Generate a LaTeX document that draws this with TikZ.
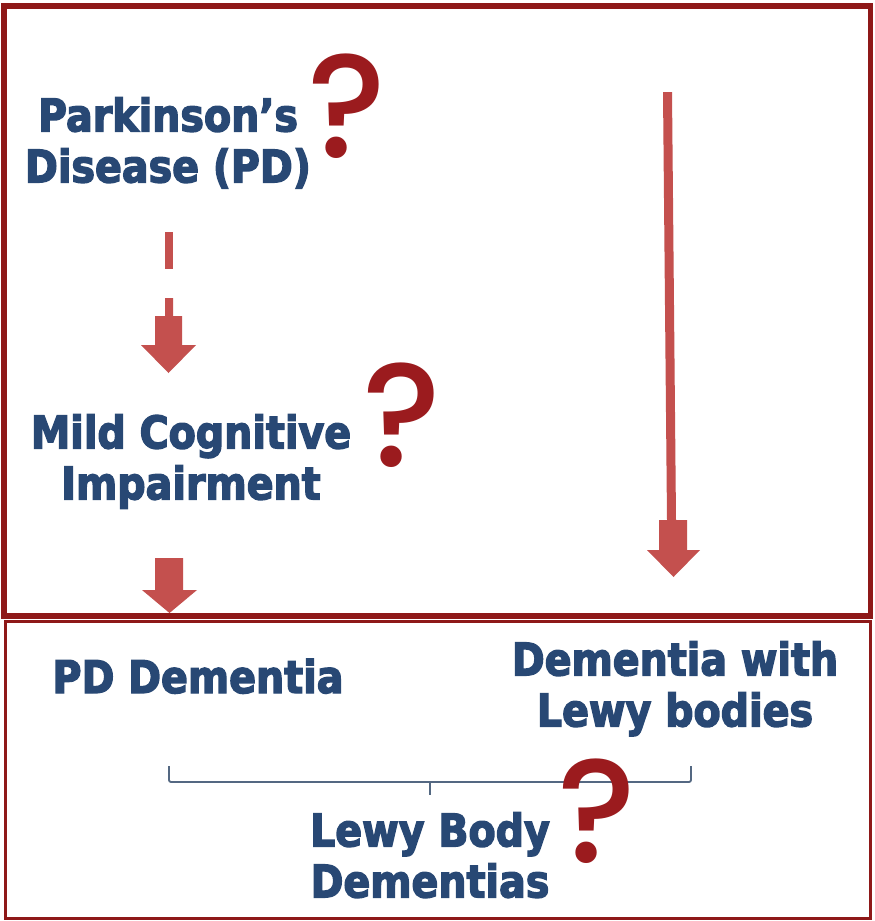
\documentclass[tikz,border=0pt]{standalone}
\usepackage{fontspec}
\setmainfont{DejaVu Sans}
\newfontfamily\lblfont[FakeStretch=0.88,FakeBold=3]{DejaVu Sans Bold}
\newfontfamily\qfont{Poppins Medium}
\definecolor{framered}{RGB}{142,24,24}
\definecolor{arrowred}{RGB}{196,80,78}
\definecolor{qred}{RGB}{155,27,30}
\definecolor{txtblue}{RGB}{40,72,116}
\definecolor{bracegray}{RGB}{84,104,130}
\begin{document}
\begin{tikzpicture}[x=1pt,y=-1pt,
  lbl/.style={font=\lblfont\fontsize{45}{51}\selectfont, text=txtblue, align=center, inner sep=0pt},
  qmark/.style={font=\qfont\fontsize{147}{147}\selectfont, text=qred, inner sep=0pt, anchor=base},
  blockarrow/.style={fill=arrowred, draw=none},
  bracket/.style={draw=bracegray, line width=1.8pt, rounded corners=2pt}]
\useasboundingbox (0,0) rectangle (875,921);
\fill[white] (0,0) rectangle (875,921);

% frames
\draw[framered, line width=5.5pt] (4,6) rectangle (870.5,616);
\draw[framered, line width=3pt] (5.5,621.5) rectangle (870,918.5);

% labels
\node[lbl, anchor=north] (pd) at (168,97) {Parkinson’s\\Disease (PD)};
\node[lbl, anchor=north] (mci) at (191,414) {Mild Cognitive\\Impairment};
\node[lbl, anchor=base] (pdd) at (198,693) {PD Dementia};
\node[lbl, anchor=north] (dlb) at (675,641) {Dementia with\\Lewy bodies};
\node[lbl, anchor=north] (lbd) at (430,812) {Lewy Body\\Dementias};

% question marks
\node[qmark] (q1) at (347,157) {?};
\node[qmark] (q2) at (402,466) {?};

% bracket grouping the two dementias
\coordinate (bl) at (169,766);
\coordinate (br) at (691,766);
\coordinate (bm) at (430,782);
\draw[bracket] (bl) -- (169,782) -- (691,782) -- (br);
\draw[bracegray, line width=1.8pt] (bm) -- (430,795);
\node[qmark] (q3) at (597,862) {?};

% dashed arrow PD -> MCI
\fill[blockarrow] (165,232) rectangle (173,269);
\fill[blockarrow] (165,298) -- (173,298) -- (173,316) -- (182,316) -- (182,345)
  -- (196,345) -- (168.5,373) -- (141,345) -- (155,345) -- (155,316) -- (165,316) -- cycle;

% arrow MCI -> PD dementia
\fill[blockarrow] (155,558) -- (183,558) -- (183,590) -- (197,590) -- (169.5,613)
  -- (142,590) -- (155,590) -- cycle;

% long arrow down to DLB
\fill[blockarrow] (663,92) -- (672,92) -- (676,520) -- (687,520) -- (687,550)
  -- (700,550) -- (673.5,577) -- (647,550) -- (659,550) -- (659,520) -- (667,520) -- cycle;
\end{tikzpicture}
\end{document}
